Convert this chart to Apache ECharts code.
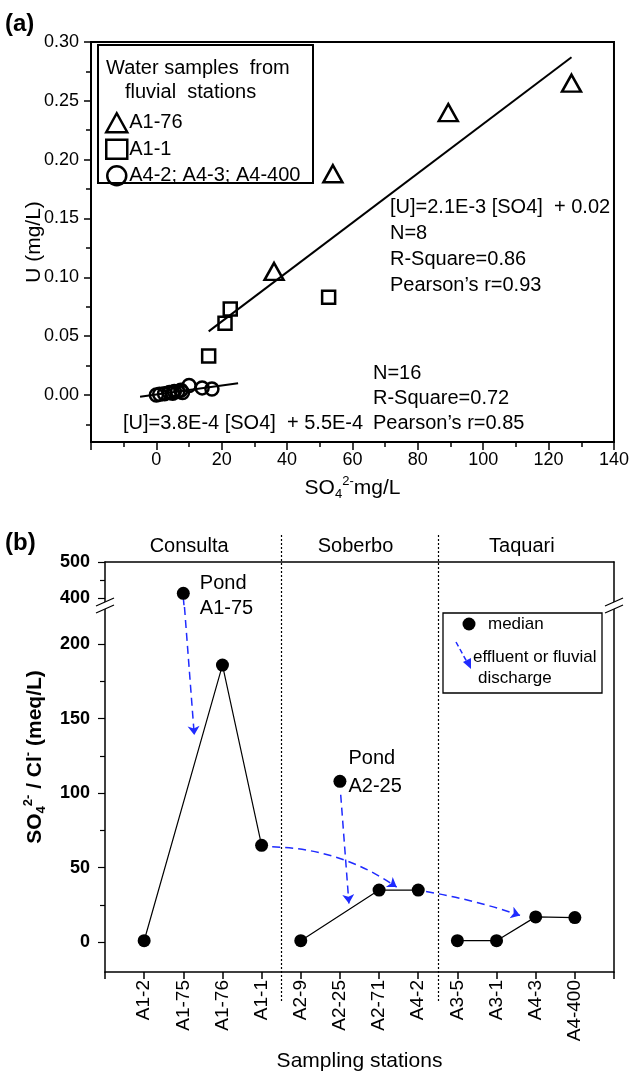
<!DOCTYPE html>
<html><head><meta charset="utf-8">
<script src="https://cdn.jsdelivr.net/npm/echarts@6/dist/echarts.min.js"></script>
<style>html,body{margin:0;padding:0;background:#fff;}#c{width:632px;height:1073px;}</style>
</head><body><div id="c"></div>
<script>
// ---------- Panel (a) data: [SO4 mg/L, U mg/L] ----------
const a1_76 = [[36,0.105],[54,0.188],[89.3,0.240],[127,0.265]];
const a1_1  = [[16,0.033],[21,0.061],[22.6,0.073],[52.7,0.083]];
const a4    = [[0,0.000],[1,0.0005],[2.5,0.001],[4,0.002],[5,0.0015],[5.5,0.003],[6.5,0.003],[7.5,0.004],[8,0.002],[10,0.008],[14,0.006],[17,0.005]];
const fitHigh = [[16,0.054],[127,0.287]];
const fitLow  = [[-5,-0.0015],[25,0.010]];
const aYTicks = [0,0.05,0.10,0.15,0.20,0.25,0.30];
const aYMinor = [-0.025,0.025,0.075,0.125,0.175,0.225,0.275];

// ---------- Panel (b) data ----------
const stations = ['A1-2','A1-75','A1-76','A1-1','A2-9','A2-25','A2-71','A4-2','A3-5','A3-1','A4-3','A4-400'];
const ratio    = [1, 413, 186, 65, 1, 108, 35, 35, 1, 1, 17, 16.5];
const groups   = [['A1-2','A1-76','A1-1'],['A2-9','A2-71','A4-2'],['A3-5','A3-1','A4-3','A4-400']];
const ponds    = ['A1-75','A2-25'];
const regions  = ['Consulta','Soberbo','Taquari'];
const regionEdges = [0, 4.5, 8.5, 13];
const bLowTicks  = [0,50,100,150,200];
const bLowMinor  = [25,75,125,175];
const bHighTicks = [400,500];
const bHighMinor = [450];
// discharge arrows in [station position, ratio] space
const arrowUpper = [[[2.0,402],[2.02,375]]];
const arrowsLower = [
  [[2.03,225],[2.28,139]],
  [[6.02,99],[6.23,26]],
  [[4.27,64],[7.45,37]],
  [[8.2,34],[10.6,18]]
];
const arrowCurve = [0, 0, 0.15, 0.04];

const F = 'Liberation Sans, Arial, Helvetica, sans-serif';
const BLK = '#000';
const BLUE = '#1f2bff';
const pos = n => stations.indexOf(n) + 1;
const val = n => ratio[stations.indexOf(n)];

const chart = echarts.init(document.getElementById('c'), null, {renderer:'canvas'});

const openSym = {color:'rgba(255,255,255,0)', borderColor:BLK, borderWidth:2.5, opacity:1};

const option = {
  animation:false,
  backgroundColor:'#fff',
  textStyle:{fontFamily:F, color:BLK},
  grid:[
    {left:91, right:16, top:42, height:400, show:true, borderColor:BLK, borderWidth:2, backgroundColor:'transparent'},
    {left:105, right:18, top:562, height:45},
    {left:105, right:18, top:607, height:366}
  ],
  legend:{
    data:['A1-76','A1-1','A4-2; A4-3; A4-400'],
    orient:'vertical', left:100, top:107, itemGap:5, itemWidth:21, itemHeight:19,
    selectedMode:false,
    textStyle:{fontSize:20, color:BLK, fontFamily:F, padding:[0,0,0,-3]},
    itemStyle:openSym
  },
  xAxis:[
    {gridIndex:0, type:'value', min:-20, max:140, interval:20,
     axisLine:{show:true, onZero:false, lineStyle:{color:BLK, width:2}},
     axisTick:{show:true, inside:false, length:8, lineStyle:{color:BLK, width:1.5}},
     minorTick:{show:true, splitNumber:2, length:5, lineStyle:{color:BLK, width:1.5}},
     splitLine:{show:false}, minorSplitLine:{show:false},
     axisLabel:{margin:9, fontSize:18, color:BLK, fontFamily:F, showMinLabel:true, showMaxLabel:true,
       formatter:v => v < 0 ? '' : String(v)},
     name:'{n|SO}{s|4}{p|2-}{n|mg/L}', nameLocation:'middle', nameGap:33, nameMoveOverlap:false,
     nameTextStyle:{rich:{
       n:{fontSize:21, lineHeight:26, color:BLK, fontFamily:F},
       s:{fontSize:13, lineHeight:13, verticalAlign:'bottom', color:BLK, fontFamily:F},
       p:{fontSize:13, lineHeight:13, verticalAlign:'top', color:BLK, fontFamily:F}}}},
    {gridIndex:1, type:'value', min:0, max:13, position:'top',
     axisLine:{show:true, onZero:false, lineStyle:{color:BLK, width:1.5}},
     axisTick:{show:false}, axisLabel:{show:false}, splitLine:{show:false}},
    {gridIndex:2, type:'value', min:0, max:13, interval:1, position:'bottom',
     axisLine:{show:true, onZero:false, lineStyle:{color:BLK, width:1.5}},
     axisTick:{show:true, length:7, lineStyle:{color:BLK, width:1.5}},
     splitLine:{show:false},
     axisLabel:{rotate:90, margin:8, fontSize:19, color:BLK, fontFamily:F, showMinLabel:true, showMaxLabel:true,
       formatter:v => stations[v-1] || ''},
     name:'Sampling stations', nameLocation:'middle', nameGap:79, nameMoveOverlap:false,
     nameTextStyle:{fontSize:21, color:BLK, fontFamily:F}}
  ],
  yAxis:[
    {gridIndex:0, type:'value', min:-0.04, max:0.30, position:'left',
     axisLine:{show:true, onZero:false, lineStyle:{color:BLK, width:2}},
     axisTick:{show:true, length:7, customValues:aYTicks, lineStyle:{color:BLK, width:1.5}},
     axisLabel:{customValues:aYTicks, margin:12, fontSize:18, color:BLK, fontFamily:F, formatter:v => v.toFixed(2)},
     splitLine:{show:false},
     name:'U (mg/L)', nameLocation:'middle', nameGap:46, nameMoveOverlap:false,
     nameTextStyle:{fontSize:21, color:BLK, fontFamily:F}},
    {gridIndex:0, type:'value', min:-0.04, max:0.30, position:'left',
     axisLine:{show:false, onZero:false}, axisLabel:{show:false}, splitLine:{show:false},
     axisTick:{show:true, length:5, customValues:aYMinor, lineStyle:{color:BLK, width:1.5}}},
    {gridIndex:1, type:'value', min:375, max:500, position:'left',
     axisLine:{show:true, onZero:false, lineStyle:{color:BLK, width:1.5}},
     axisTick:{show:true, length:7, customValues:bHighTicks, lineStyle:{color:BLK, width:1.2}},
     axisLabel:{customValues:bHighTicks, margin:15, fontSize:18, fontWeight:'bold', color:BLK, fontFamily:F},
     splitLine:{show:false}},
    {gridIndex:1, type:'value', min:375, max:500, position:'left',
     axisLine:{show:false, onZero:false}, axisLabel:{show:false}, splitLine:{show:false},
     axisTick:{show:true, length:5, customValues:bHighMinor, lineStyle:{color:BLK, width:1.2}}},
    {gridIndex:1, type:'value', min:375, max:500, position:'right',
     axisLine:{show:true, onZero:false, lineStyle:{color:BLK, width:1.5}},
     axisTick:{show:false}, axisLabel:{show:false}, splitLine:{show:false}},
    {gridIndex:2, type:'value', min:-20, max:225, position:'left',
     axisLine:{show:true, onZero:false, lineStyle:{color:BLK, width:1.5}},
     axisTick:{show:true, length:7, customValues:bLowTicks, lineStyle:{color:BLK, width:1.2}},
     axisLabel:{customValues:bLowTicks, margin:15, fontSize:18, fontWeight:'bold', color:BLK, fontFamily:F},
     splitLine:{show:false}},
    {gridIndex:2, type:'value', min:-20, max:225, position:'left',
     axisLine:{show:false, onZero:false}, axisLabel:{show:false}, splitLine:{show:false},
     axisTick:{show:true, length:5, customValues:bLowMinor, lineStyle:{color:BLK, width:1.2}}},
    {gridIndex:2, type:'value', min:-20, max:225, position:'right',
     axisLine:{show:true, onZero:false, lineStyle:{color:BLK, width:1.5}},
     axisTick:{show:false}, axisLabel:{show:false}, splitLine:{show:false}}
  ],
  series:[
    {name:'fitHigh', type:'line', xAxisIndex:0, yAxisIndex:0, data:fitHigh, symbol:'none',
     lineStyle:{color:BLK, width:2}, z:2},
    {name:'fitLow', type:'line', xAxisIndex:0, yAxisIndex:0, data:fitLow, symbol:'none',
     lineStyle:{color:BLK, width:2}, z:2},
    {name:'A1-76', type:'scatter', xAxisIndex:0, yAxisIndex:0, data:a1_76, symbol:'triangle',
     symbolSize:[19,17], itemStyle:openSym, z:3},
    {name:'A1-1', type:'scatter', xAxisIndex:0, yAxisIndex:0, data:a1_1, symbol:'rect',
     symbolSize:13, itemStyle:openSym, z:3},
    {name:'A4-2; A4-3; A4-400', type:'scatter', xAxisIndex:0, yAxisIndex:0, data:a4, symbol:'circle',
     symbolSize:13, itemStyle:openSym, z:3},
    // panel b
    ...groups.map((g,i) => ({
      name:'median'+i, type:'line', xAxisIndex:2, yAxisIndex:5,
      data:g.map(n => [pos(n), val(n)]),
      symbol:'circle', symbolSize:13, showAllSymbol:true,
      itemStyle:{color:BLK, opacity:1}, lineStyle:{color:BLK, width:1.2}, z:4
    })),
    {name:'pondHigh', type:'scatter', xAxisIndex:1, yAxisIndex:2,
     data:ponds.filter(n => val(n) >= 375).map(n => [pos(n), val(n)]),
     symbol:'circle', symbolSize:13, itemStyle:{color:BLK, opacity:1}, z:4,
     label:{show:true, position:'right', distance:10, offset:[0,3], fontSize:20, lineHeight:25, color:BLK, opacity:1, fontFamily:F,
       formatter:p => 'Pond\n' + stations[p.data[0]-1]}},
    {name:'pondLow', type:'scatter', xAxisIndex:2, yAxisIndex:5,
     data:ponds.filter(n => val(n) < 375).map(n => [pos(n), val(n)]),
     symbol:'circle', symbolSize:13, itemStyle:{color:BLK, opacity:1}, z:4,
     label:{show:true, position:'right', distance:2, offset:[0,-9], fontSize:20, lineHeight:28, color:BLK, opacity:1, fontFamily:F,
       formatter:p => 'Pond\n' + stations[p.data[0]-1]}},
    {name:'arrowUp', type:'lines', coordinateSystem:'cartesian2d', xAxisIndex:1, yAxisIndex:2,
     data:arrowUpper.map(c => ({coords:c})), symbol:['none','none'],
     lineStyle:{color:BLUE, width:1.5, type:[8,5], opacity:1}, z:3},
    {name:'arrows', type:'lines', coordinateSystem:'cartesian2d', xAxisIndex:2, yAxisIndex:5,
     data:arrowsLower.map((c,i) => ({coords:c, lineStyle:{curveness:arrowCurve[i]}})),
     symbol:['none','arrow'], symbolSize:9,
     lineStyle:{color:BLUE, width:1.5, type:[8,5], opacity:1}, z:3}
  ]
};
chart.setOption(option);

// ---------- annotations computed from the axes ----------
const xPix = v => chart.convertToPixel({xAxisIndex:2}, v);
const yLow = v => chart.convertToPixel({yAxisIndex:5}, v);
const yBrk = yLow(225);
const xL = xPix(0), xR = xPix(13);
const g = [];
const txt = (x, y, text, extra) => g.push(Object.assign({type:'text', x, y, z:50,
  style:Object.assign({text, fill:BLK, fontSize:20, fontFamily:F, align:'left', verticalAlign:'middle'}, extra||{})}));

// panel labels
txt(5, 24, '(a)', {fontSize:24, fontWeight:'bold'});
txt(5, 543, '(b)', {fontSize:24, fontWeight:'bold'});

// legend (a) frame + title
g.push({type:'rect', z:40, shape:{x:98, y:45, width:215, height:138}, style:{fill:'none', stroke:BLK, lineWidth:2}});
txt(106, 68, 'Water samples  from');
txt(125, 92, 'fluvial  stations');

// regression text
['[U]=2.1E-3 [SO4]  + 0.02','N=8','R-Square=0.86','Pearson\u2019s r=0.93'].forEach((t,i) => txt(390, 207 + i*26, t));
['N=16','R-Square=0.72','Pearson\u2019s r=0.85'].forEach((t,i) => txt(373, 373 + i*25, t));
txt(123, 423, '[U]=3.8E-4 [SO4]  + 5.5E-4');

// region separators and names
[regionEdges[1], regionEdges[2]].forEach(e => {
  const x = Math.round(xPix(e)) + 0.5;
  g.push({type:'line', z:1, shape:{x1:x, y1:535, x2:x, y2:1002}, style:{stroke:BLK, lineWidth:1.2, lineDash:[2,2]}});
});
regions.forEach((r,i) => {
  const cx = (xPix(regionEdges[i]) + xPix(regionEdges[i+1])) / 2;
  txt(cx - 4, 546, r, {align:'center'});
});

// axis break marks
[xL, xR].forEach(x => {
  const y = yBrk - 3;
  g.push({type:'polygon', z:45, shape:{points:[[x-9,y+2],[x+9,y-6],[x+9,y+1],[x-9,y+9]]}, style:{fill:'#fff'}});
  g.push({type:'line', z:46, shape:{x1:x-9, y1:y+2, x2:x+9, y2:y-6}, style:{stroke:BLK, lineWidth:1.3}});
  g.push({type:'line', z:46, shape:{x1:x-9, y1:y+9, x2:x+9, y2:y+1}, style:{stroke:BLK, lineWidth:1.3}});
});

// legend (b)
g.push({type:'rect', z:40, shape:{x:443, y:613, width:159, height:80}, style:{fill:'#fff', stroke:BLK, lineWidth:1.3}});
g.push({type:'circle', z:41, shape:{cx:469, cy:624, r:6.5}, style:{fill:BLK}});
txt(488, 624, 'median', {fontSize:17});
g.push({type:'line', z:41, shape:{x1:456, y1:642, x2:467, y2:662}, style:{stroke:BLUE, lineWidth:1.5, lineDash:[5,3]}});
g.push({type:'polygon', z:41, shape:{points:[[463,662],[471,658],[471,669]]}, style:{fill:BLUE}});
txt(473, 657, 'effluent or fluvial', {fontSize:17});
txt(478, 678, 'discharge', {fontSize:17});

// y title (b)
g.push({type:'text', x:35, y:757, rotation:Math.PI/2, z:50, style:{
  text:'{b|SO}{s|4}{p|2-}{b| / Cl}{p|-}{b| (meq/L)}', align:'center', verticalAlign:'middle',
  rich:{
    b:{fontSize:21, fontWeight:'bold', fontFamily:F, fill:BLK, lineHeight:26},
    s:{fontSize:13, fontWeight:'bold', fontFamily:F, fill:BLK, verticalAlign:'bottom', lineHeight:13},
    p:{fontSize:13, fontWeight:'bold', fontFamily:F, fill:BLK, verticalAlign:'top', lineHeight:13}
  }}});

chart.setOption({graphic:g});
</script></body></html>
